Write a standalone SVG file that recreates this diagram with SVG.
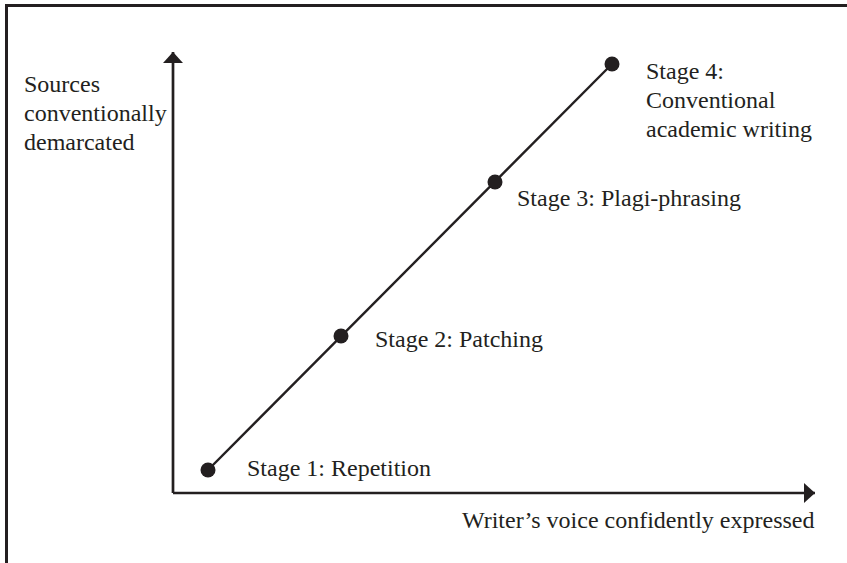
<svg xmlns="http://www.w3.org/2000/svg" width="847" height="563" viewBox="0 0 847 563">
<style>
text{font-family:"Liberation Serif","Times New Roman",serif;font-size:24px;fill:#231f20}
.frame{fill:none;stroke:#231f20;stroke-width:3}
.axis{fill:none;stroke:#231f20;stroke-width:2.7}
.trend{fill:none;stroke:#231f20;stroke-width:2.4}
.dot{fill:#231f20}
</style>
<defs>
<marker id="arr" markerWidth="12" markerHeight="20" refX="11" refY="10" orient="auto" markerUnits="userSpaceOnUse">
<path d="M0,0 L11,10 L0,20 Z" fill="#231f20"/>
</marker>
</defs>
<rect width="847" height="563" fill="#ffffff"/>
<path class="frame" d="M6.5,563 L6.5,5.5 L847,5.5"/>
<g id="connectors">
<path class="axis" d="M173,493 L173,52" marker-end="url(#arr)"/>
<path class="axis" d="M173,493 L815,493" marker-end="url(#arr)"/>
<path class="trend" d="M208,470 L612,64"/>
</g>
<g id="y-label">
<text x="24" y="92">Sources</text>
<text x="24" y="121">conventionally</text>
<text x="24" y="150">demarcated</text>
</g>
<g id="x-label">
<text x="462" y="528">Writer’s voice confidently expressed</text>
</g>
<g id="stage1">
<circle class="dot" cx="208" cy="470" r="7.5"/>
<text x="247" y="476">Stage 1: Repetition</text>
</g>
<g id="stage2">
<circle class="dot" cx="341" cy="336" r="7.5"/>
<text x="375" y="347">Stage 2: Patching</text>
</g>
<g id="stage3">
<circle class="dot" cx="495" cy="182" r="7.5"/>
<text x="517" y="206">Stage 3: Plagi-phrasing</text>
</g>
<g id="stage4">
<circle class="dot" cx="612" cy="64" r="7.5"/>
<text x="646" y="79">Stage 4:</text>
<text x="646" y="108">Conventional</text>
<text x="646" y="137">academic writing</text>
</g>
</svg>
